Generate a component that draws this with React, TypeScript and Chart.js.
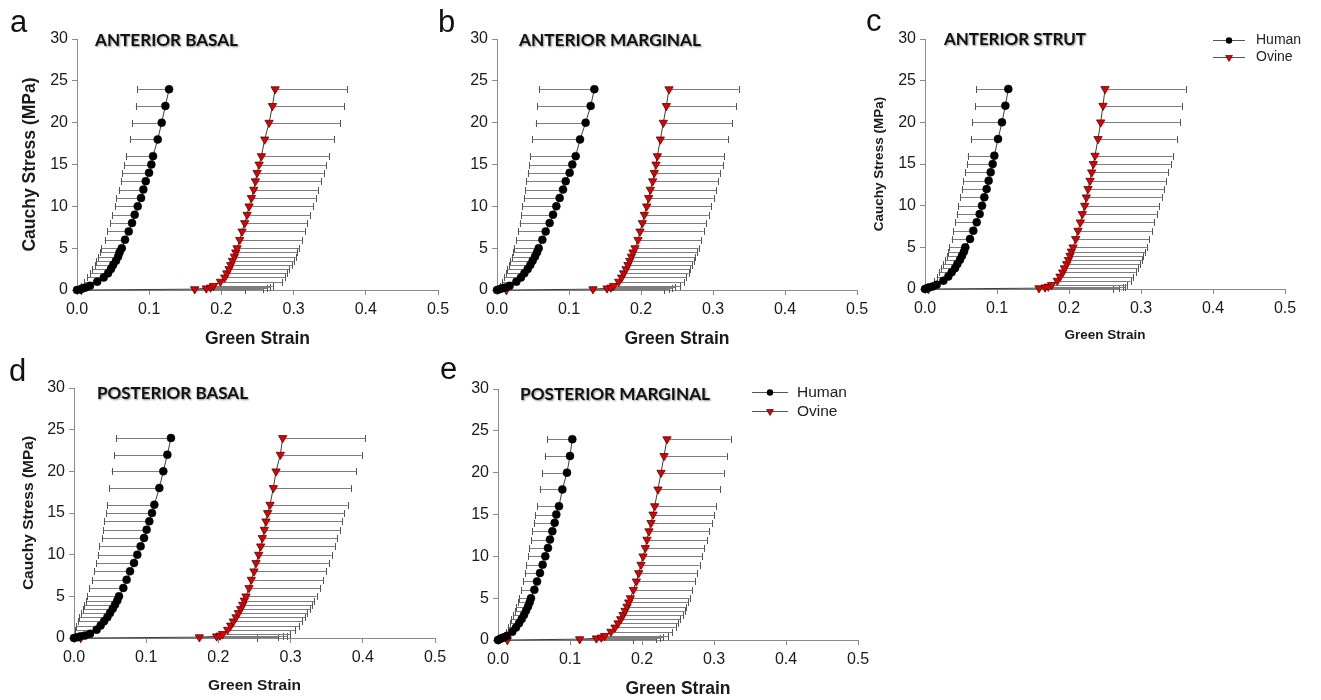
import React, { useEffect, useRef } from "react";
import { Chart, registerables } from "chart.js";

Chart.register(...registerables);

// ---------------- DATA ----------------
const stressLevels = [0, 0.1, 0.2, 0.3, 0.5, 1, 1.5, 2, 2.5, 3, 3.5, 4, 4.5, 5, 6, 7, 8, 9, 10, 11, 12, 13, 14, 15, 16, 18, 20, 22, 24];
const strainTicks = [0, 0.1, 0.2, 0.3, 0.4, 0.5];
const stressTicks = [0, 5, 10, 15, 20, 25, 30];
const seriesNames = ["Human", "Ovine"];
const panelLetters = ["a", "b", "c", "d", "e"];
const panelTitles = ["ANTERIOR BASAL", "ANTERIOR MARGINAL", "ANTERIOR STRUT", "POSTERIOR BASAL", "POSTERIOR MARGINAL"];
const yAxisTitle = "Cauchy Stress (MPa)";
const xAxisTitle = "Green Strain";

// Panel a — anterior basal
const humanStrainA = [0, 0.005, 0.008, 0.012, 0.018, 0.028, 0.037, 0.043, 0.047, 0.05, 0.054, 0.057, 0.059, 0.062, 0.0665, 0.0716, 0.0762, 0.0799, 0.0841, 0.0887, 0.0919, 0.0952, 0.0998, 0.103, 0.1053, 0.1118, 0.1173, 0.1224, 0.1275];
const humanLowA = [0, 0.003, 0.004, 0.005, 0.006, 0.0102, 0.0139, 0.018, 0.0212, 0.0245, 0.0268, 0.0286, 0.0314, 0.0337, 0.0383, 0.042, 0.0457, 0.049, 0.0522, 0.0545, 0.0577, 0.0605, 0.0628, 0.0656, 0.0674, 0.0739, 0.0758, 0.0813, 0.0831];
const ovineStrainA = [0.006, 0.163, 0.179, 0.185, 0.189, 0.1986, 0.2046, 0.2074, 0.2106, 0.2129, 0.2152, 0.218, 0.2199, 0.2217, 0.2254, 0.2286, 0.2323, 0.2356, 0.2383, 0.2416, 0.2448, 0.2471, 0.2494, 0.2522, 0.2554, 0.26, 0.266, 0.2707, 0.2744];
const ovineHighA = [0.232, 0.257, 0.263, 0.267, 0.271, 0.2845, 0.2878, 0.291, 0.2938, 0.2975, 0.3002, 0.303, 0.3053, 0.3076, 0.3113, 0.3155, 0.3187, 0.3233, 0.327, 0.3307, 0.334, 0.3386, 0.3418, 0.3455, 0.3492, 0.3561, 0.3649, 0.37, 0.3746];

// Panel b — anterior marginal
const humanStrainB = [0, 0.0037, 0.007, 0.0116, 0.0176, 0.0269, 0.0333, 0.038, 0.0426, 0.0463, 0.0495, 0.0528, 0.0556, 0.0579, 0.063, 0.0676, 0.0731, 0.0778, 0.0824, 0.087, 0.0917, 0.0954, 0.1009, 0.1046, 0.1093, 0.1153, 0.1231, 0.1301, 0.1352];
const humanLowB = [0, 0.002, 0.003, 0.0035, 0.0037, 0.0065, 0.0093, 0.012, 0.0139, 0.0167, 0.0185, 0.0204, 0.0222, 0.0241, 0.0269, 0.0287, 0.0315, 0.0333, 0.0352, 0.037, 0.0394, 0.0407, 0.0426, 0.0444, 0.0463, 0.0491, 0.0537, 0.0556, 0.0579];
const ovineStrainB = [0.013, 0.1333, 0.1528, 0.1583, 0.162, 0.169, 0.1731, 0.1759, 0.1792, 0.1819, 0.1843, 0.1866, 0.1889, 0.1917, 0.1958, 0.1986, 0.2019, 0.2046, 0.2079, 0.2106, 0.213, 0.2162, 0.2185, 0.2208, 0.2227, 0.2269, 0.231, 0.2352, 0.2389];
const ovineHighB = [0.2315, 0.2384, 0.243, 0.2477, 0.2546, 0.2593, 0.263, 0.2662, 0.2685, 0.2708, 0.2731, 0.2755, 0.2778, 0.2801, 0.2833, 0.287, 0.2907, 0.294, 0.2977, 0.3009, 0.3042, 0.3074, 0.3102, 0.3139, 0.3157, 0.3208, 0.3269, 0.3315, 0.3356];

// Panel c — anterior strut
const humanStrainC = [0, 0.0032, 0.006, 0.0106, 0.0162, 0.0255, 0.0324, 0.037, 0.0417, 0.0449, 0.0486, 0.0514, 0.0542, 0.056, 0.0625, 0.0671, 0.0718, 0.0759, 0.0792, 0.0824, 0.0856, 0.0884, 0.0912, 0.094, 0.0963, 0.1014, 0.1069, 0.1116, 0.1157];
const humanLowC = [0, 0.002, 0.004, 0.006, 0.0093, 0.013, 0.0162, 0.019, 0.0218, 0.0245, 0.0278, 0.0301, 0.0324, 0.0338, 0.037, 0.0394, 0.0417, 0.044, 0.0463, 0.0486, 0.0509, 0.0532, 0.0556, 0.0579, 0.0593, 0.0634, 0.0657, 0.0694, 0.0708];
const ovineStrainC = [0.0046, 0.1583, 0.1667, 0.1713, 0.1759, 0.1838, 0.1875, 0.1912, 0.1935, 0.1968, 0.1991, 0.2014, 0.2032, 0.2056, 0.2093, 0.2125, 0.2157, 0.2185, 0.2218, 0.2241, 0.2264, 0.2292, 0.2315, 0.2338, 0.2361, 0.2403, 0.244, 0.2472, 0.25];
const ovineHighC = [0.2616, 0.2699, 0.2745, 0.2778, 0.2801, 0.2856, 0.2894, 0.2926, 0.2954, 0.2986, 0.3009, 0.3032, 0.3056, 0.3079, 0.3116, 0.3148, 0.3185, 0.3218, 0.3255, 0.3287, 0.3319, 0.3347, 0.338, 0.3412, 0.344, 0.3495, 0.3542, 0.3565, 0.362];

// Panel d — posterior basal
const humanStrainD = [0, 0.0046, 0.0092, 0.0152, 0.0222, 0.0314, 0.0369, 0.0416, 0.0462, 0.0499, 0.0536, 0.0568, 0.06, 0.0623, 0.0683, 0.0729, 0.0776, 0.0831, 0.0877, 0.0923, 0.097, 0.1006, 0.1043, 0.108, 0.1113, 0.1182, 0.1237, 0.1293, 0.1343];
const humanLowD = [0, 0.0005, 0.0007, 0.0008, 0.0009, 0.0018, 0.0032, 0.0051, 0.0074, 0.0097, 0.012, 0.0143, 0.0166, 0.0185, 0.0212, 0.0245, 0.0277, 0.0305, 0.0328, 0.0351, 0.0383, 0.0402, 0.0416, 0.0443, 0.0452, 0.0489, 0.0522, 0.0559, 0.0577];
const ovineStrainD = [0.0092, 0.1736, 0.1976, 0.2022, 0.2059, 0.2128, 0.217, 0.2207, 0.2244, 0.2276, 0.2308, 0.2336, 0.2359, 0.2382, 0.2424, 0.2456, 0.2493, 0.2521, 0.2558, 0.2585, 0.2608, 0.2636, 0.2659, 0.2682, 0.2715, 0.2761, 0.2798, 0.2858, 0.289];
const ovineHighD = [0.253, 0.283, 0.2899, 0.2946, 0.2992, 0.3061, 0.3116, 0.3163, 0.3199, 0.3232, 0.3269, 0.3301, 0.3329, 0.3361, 0.3407, 0.3453, 0.349, 0.3532, 0.3569, 0.3615, 0.3647, 0.3684, 0.3717, 0.3744, 0.379, 0.3837, 0.3906, 0.3984, 0.4031];

// Panel e — posterior marginal
const humanStrainE = [0, 0.0023, 0.0046, 0.0079, 0.0125, 0.0199, 0.025, 0.0292, 0.0329, 0.0361, 0.0389, 0.0417, 0.044, 0.0458, 0.0505, 0.0542, 0.0583, 0.062, 0.0657, 0.0694, 0.0722, 0.0755, 0.0787, 0.081, 0.0847, 0.0894, 0.0958, 0.1, 0.1032];
const humanLowE = [0, 0.001, 0.002, 0.003, 0.006, 0.0106, 0.0134, 0.0162, 0.0185, 0.0208, 0.0231, 0.0255, 0.0278, 0.0292, 0.0324, 0.0347, 0.037, 0.0394, 0.0417, 0.0435, 0.0458, 0.0477, 0.0495, 0.0519, 0.0542, 0.0579, 0.0616, 0.0648, 0.068];
const ovineStrainE = [0.013, 0.1134, 0.1366, 0.1435, 0.1481, 0.1569, 0.1625, 0.1667, 0.1704, 0.1736, 0.1764, 0.1792, 0.1815, 0.1838, 0.188, 0.1921, 0.1954, 0.1986, 0.2014, 0.2046, 0.2069, 0.2097, 0.2125, 0.2153, 0.2176, 0.2222, 0.2264, 0.2306, 0.2347];
const ovineHighE = [0.1875, 0.2199, 0.2245, 0.2292, 0.2361, 0.2421, 0.2468, 0.25, 0.2532, 0.2569, 0.2593, 0.2616, 0.2639, 0.2662, 0.2699, 0.2736, 0.2769, 0.2801, 0.2838, 0.2866, 0.2903, 0.2931, 0.2968, 0.3, 0.3032, 0.3088, 0.3134, 0.3176, 0.3231];

const panelSeries = [
  { human: humanStrainA, humanLow: humanLowA, ovine: ovineStrainA, ovineHigh: ovineHighA },
  { human: humanStrainB, humanLow: humanLowB, ovine: ovineStrainB, ovineHigh: ovineHighB },
  { human: humanStrainC, humanLow: humanLowC, ovine: ovineStrainC, ovineHigh: ovineHighC },
  { human: humanStrainD, humanLow: humanLowD, ovine: ovineStrainD, ovineHigh: ovineHighD },
  { human: humanStrainE, humanLow: humanLowE, ovine: ovineStrainE, ovineHigh: ovineHighE },
];

// ---------------- LAYOUT (page pixels) ----------------
type Legend = { x1: number; x2: number; mx: number; y1: number; y2: number; tx: number; fs: number };
type PanelLayout = {
  x: number; y: number; w: number; h: number;
  area: { l: number; t: number; r: number; b: number };
  yTitle: { size: number; cx: number } | null;
  xTitle: { size: number; cy: number };
  title: { x: number; cy: number; w: number };
  letter: { x: number; base: number };
  legend?: Legend;
};

const LAYOUT: PanelLayout[] = [
  { x: 0, y: 0, w: 455, h: 350, area: { l: 77, t: 39, r: 438, b: 290 }, yTitle: { size: 17.5, cx: 30 }, xTitle: { size: 17.5, cy: 339 }, title: { x: 95, cy: 40.5, w: 143 }, letter: { x: 10, base: 32 } },
  { x: 432, y: 0, w: 445, h: 350, area: { l: 497, t: 39, r: 857, b: 290 }, yTitle: null, xTitle: { size: 17.5, cy: 339 }, title: { x: 519, cy: 41, w: 182 }, letter: { x: 438, base: 32 } },
  { x: 858, y: 0, w: 463, h: 350, area: { l: 925, t: 39, r: 1285, b: 289 }, yTitle: { size: 13.5, cx: 879 }, xTitle: { size: 13.5, cy: 335 }, title: { x: 944, cy: 40, w: 142 }, letter: { x: 866, base: 31 }, legend: { x1: 1213, x2: 1245, mx: 1229, y1: 40, y2: 57, tx: 1256, fs: 14 } },
  { x: 0, y: 350, w: 455, h: 350, area: { l: 74, t: 388, r: 435, b: 638 }, yTitle: { size: 15.5, cx: 28.3 }, xTitle: { size: 15.5, cy: 686 }, title: { x: 97, cy: 394, w: 151 }, letter: { x: 9, base: 381 } },
  { x: 430, y: 350, w: 445, h: 350, area: { l: 498, t: 389, r: 858, b: 640 }, yTitle: null, xTitle: { size: 17.5, cy: 689.5 }, title: { x: 520, cy: 394.5, w: 190 }, letter: { x: 440, base: 379 }, legend: { x1: 752, x2: 788, mx: 770, y1: 392, y2: 411, tx: 797, fs: 15.5 } },
];

const FONT = "'Liberation Sans', Arial, sans-serif";
const AXIS_COLOR = "#8a8a8a";
const TEXT_COLOR = "#1a1a1a";

// ---------------- PLUGINS ----------------
const errorBarPlugin = {
  id: "errorBars",
  beforeDatasetsDraw(chart: any) {
    const ctx = chart.ctx;
    const xs = chart.scales.x;
    const ys = chart.scales.y;
    chart.data.datasets.forEach((ds: any) => {
      if (!ds.errEnds) return;
      ctx.save();
      ctx.lineWidth = 1;
      ds.data.forEach((p: any, i: number) => {
        const end = ds.errEnds[i];
        if (end === undefined || end === p.x) return;
        const y = Math.round(ys.getPixelForValue(p.y)) + 0.5;
        const x1 = xs.getPixelForValue(p.x);
        const x2 = xs.getPixelForValue(end);
        ctx.strokeStyle = "#7d7d7d";
        ctx.beginPath();
        ctx.moveTo(x1, y);
        ctx.lineTo(x2, y);
        ctx.stroke();
        ctx.strokeStyle = "#555";
        ctx.beginPath();
        const xc = Math.round(x2) + 0.5;
        ctx.moveTo(xc, y - 3.5);
        ctx.lineTo(xc, y + 3.5);
        ctx.stroke();
      });
      ctx.restore();
    });
  },
};

function makeDecorPlugin(idx: number) {
  const L = LAYOUT[idx];
  return {
    id: "decor" + idx,
    afterDraw(chart: any) {
      const ctx = chart.ctx;
      const ox = L.x;
      const oy = L.y;
      ctx.save();
      // panel letter
      ctx.font = `31px ${FONT}`;
      ctx.fillStyle = "#111";
      ctx.textBaseline = "alphabetic";
      ctx.textAlign = "left";
      ctx.fillText(panelLetters[idx], L.letter.x - ox, L.letter.base - oy);

      // panel title (bold, shadowed)
      const text = panelTitles[idx];
      ctx.font = `bold 17px Lato, ${FONT}`;
      const tw = ctx.measureText(text).width;
      ctx.save();
      ctx.translate(L.title.x - ox, L.title.cy - oy);
      ctx.scale(L.title.w / tw, 1);
      ctx.shadowColor = "rgba(0,0,0,0.45)";
      ctx.shadowBlur = 2;
      ctx.shadowOffsetX = 1;
      ctx.shadowOffsetY = 1;
      ctx.textBaseline = "middle";
      ctx.fillStyle = "#111";
      ctx.fillText(text, 0, 0);
      ctx.restore();

      // legend
      if (L.legend) {
        const g = L.legend;
        const rows = [g.y1, g.y2];
        rows.forEach((yy, k) => {
          const y = yy - oy + 0.5;
          ctx.strokeStyle = "#555";
          ctx.lineWidth = 1;
          ctx.beginPath();
          ctx.moveTo(g.x1 - ox, y);
          ctx.lineTo(g.x2 - ox, y);
          ctx.stroke();
          const mx = g.mx - ox;
          if (k === 0) {
            ctx.fillStyle = "#000";
            ctx.beginPath();
            ctx.arc(mx, y, 3.2, 0, Math.PI * 2);
            ctx.fill();
          } else {
            const r = 4;
            ctx.fillStyle = "#d80000";
            ctx.strokeStyle = "#500";
            ctx.lineWidth = 0.7;
            ctx.beginPath();
            ctx.moveTo(mx, y + r);
            ctx.lineTo(mx - r * 0.866, y - r / 2);
            ctx.lineTo(mx + r * 0.866, y - r / 2);
            ctx.closePath();
            ctx.fill();
            ctx.stroke();
          }
          ctx.font = `${g.fs}px ${FONT}`;
          ctx.fillStyle = "#222";
          ctx.textBaseline = "middle";
          ctx.fillText(seriesNames[k], g.tx - ox, y);
        });
      }
      ctx.restore();
    },
  };
}

// ---------------- COMPONENTS ----------------
function Panel({ idx }: { idx: number }) {
  const ref = useRef<HTMLCanvasElement | null>(null);
  const L = LAYOUT[idx];
  useEffect(() => {
    const s = panelSeries[idx];
    const yAxisW = L.area.l - L.x;
    const xAxisH = L.y + L.h - L.area.b;
    const padTop = L.area.t - L.y;
    const padRight = L.x + L.w - L.area.r;
    const yTitleLH = L.yTitle ? L.yTitle.size * 1.2 : 0;
    const xTitleLH = L.xTitle.size * 1.2;
    const chart = new Chart(ref.current as HTMLCanvasElement, {
      type: "scatter",
      data: {
        datasets: [
          {
            label: seriesNames[0],
            data: stressLevels.map((v, i) => ({ x: s.human[i], y: v })),
            errEnds: s.humanLow,
            showLine: true,
            borderColor: "#3c3c3c",
            borderWidth: 1,
            pointStyle: "circle",
            pointRadius: 4,
            pointBackgroundColor: "#000",
            pointBorderColor: "#000",
            pointBorderWidth: 0.5,
            clip: false,
          } as any,
          {
            label: seriesNames[1],
            data: stressLevels.map((v, i) => ({ x: s.ovine[i], y: v })),
            errEnds: s.ovineHigh,
            showLine: true,
            borderColor: "#3c3c3c",
            borderWidth: 1,
            pointStyle: "triangle",
            pointRotation: 180,
            pointRadius: 4.8,
            pointBackgroundColor: "#e00000",
            pointBorderColor: "#5a0000",
            pointBorderWidth: 0.8,
            clip: false,
          } as any,
        ],
      },
      options: {
        animation: false,
        responsive: false,
        devicePixelRatio: 1,
        layout: { padding: { left: 0, top: padTop, right: padRight, bottom: 0 } },
        plugins: {
          legend: { display: false },
          tooltip: { enabled: false },
          title: { display: false },
        },
        scales: {
          x: {
            type: "linear",
            position: "bottom",
            min: 0,
            max: 0.5,
            afterFit: (sc: any) => {
              sc.height = xAxisH;
            },
            afterBuildTicks: (sc: any) => {
              sc.ticks = strainTicks.map((v) => ({ value: v }));
            },
            ticks: {
              callback: (v: any) => Number(v).toFixed(1),
              font: { family: FONT, size: 16 },
              color: TEXT_COLOR,
              padding: 5,
              maxRotation: 0,
              autoSkip: false,
            },
            grid: { drawOnChartArea: false, drawTicks: true, tickLength: 5, color: AXIS_COLOR },
            border: { color: AXIS_COLOR, width: 1 },
            title: {
              display: true,
              text: xAxisTitle,
              font: { family: FONT, size: L.xTitle.size, weight: "bold" },
              color: TEXT_COLOR,
              padding: { top: 0, bottom: Math.max(0, L.y + L.h - L.xTitle.cy - xTitleLH / 2) },
            },
          },
          y: {
            type: "linear",
            position: "left",
            min: 0,
            max: 30,
            afterFit: (sc: any) => {
              sc.width = yAxisW;
            },
            afterBuildTicks: (sc: any) => {
              sc.ticks = stressTicks.map((v) => ({ value: v }));
            },
            ticks: {
              font: { family: FONT, size: 16 },
              color: TEXT_COLOR,
              padding: 4,
            },
            grid: { drawOnChartArea: false, drawTicks: true, tickLength: 5, color: AXIS_COLOR },
            border: { color: AXIS_COLOR, width: 1 },
            title: {
              display: !!L.yTitle,
              text: yAxisTitle,
              font: { family: FONT, size: L.yTitle ? L.yTitle.size : 12, weight: "bold" },
              color: TEXT_COLOR,
              padding: { top: L.yTitle ? L.yTitle.cx - L.x - yTitleLH / 2 : 0, bottom: 0 },
            },
          },
        },
      } as any,
      plugins: [errorBarPlugin, makeDecorPlugin(idx)],
    });
    return () => chart.destroy();
  }, [idx]);
  return (
    <div style={{ position: "absolute", left: L.x, top: L.y, width: L.w, height: L.h }}>
      <canvas ref={ref} width={L.w} height={L.h} style={{ width: L.w, height: L.h, display: "block" }} />
    </div>
  );
}

export default function App() {
  return (
    <div style={{ position: "absolute", left: 0, top: 0, width: 1321, height: 700, background: "#fff", overflow: "hidden" }}>
      {LAYOUT.map((_, i) => (
        <Panel key={i} idx={i} />
      ))}
    </div>
  );
}
